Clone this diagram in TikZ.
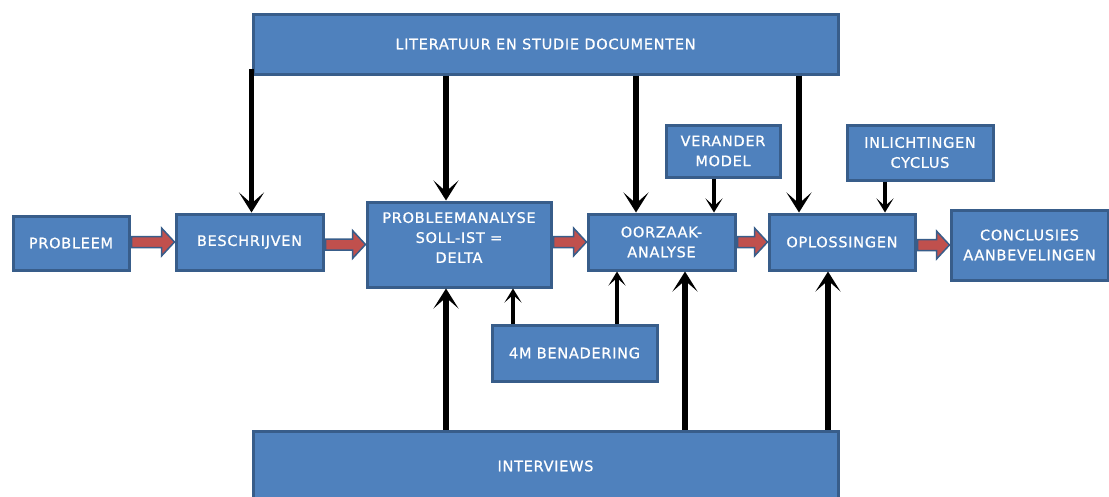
\documentclass[tikz,border=0pt]{standalone}
\usepackage{fontspec}
\setmainfont{DejaVu Sans}[LetterSpace=5,FakeBold=0.8]
\usetikzlibrary{arrows.meta,calc}
\definecolor{boxfill}{HTML}{4F81BD}
\definecolor{boxline}{HTML}{385D8A}
\definecolor{flowred}{HTML}{C0504D}
\tikzset{
  box/.style={draw=boxline, fill=boxfill, line width=3pt, text=white,
    font=\fontsize{14.5}{20}\selectfont, align=center, inner sep=0pt},
  feed/.style={line width=5.5pt, -{Stealth[length=20pt,width=25pt,inset=11pt]}},
  hint/.style={line width=3.5pt, -{Stealth[length=14pt,width=17pt,inset=7.5pt]}},
  flow/.style={fill=flowred, draw=boxline, line width=1.5pt, line join=miter},
}
% thick red block arrow from the east side of #1 to the west side of #2
\newcommand\flowarrow[2]{%
  \draw[flow] let \p1=(#1.east), \p2=(#2.west) in
    ({\x1+1pt},{\y2+5.5pt}) -- ({\x2-13pt},{\y2+5.5pt}) -- ({\x2-13pt},{\y2+14pt})
    -- (\x2,\y2) -- ({\x2-13pt},{\y2-14pt}) -- ({\x2-13pt},{\y2-5.5pt})
    -- ({\x1+1pt},{\y2-5.5pt}) -- cycle;
}
\begin{document}
\begin{tikzpicture}[x=1pt,y=-1pt]
\useasboundingbox (0,0) rectangle (1109,496);

% boxes
\node[box, minimum width=585, minimum height=60] (lit) at (545.5,44) {LITERATUUR EN STUDIE DOCUMENTEN};
\node[box, minimum width=116, minimum height=54] (prob) at (71,243) {PROBLEEM};
\node[box, minimum width=147, minimum height=56] (besch) at (249.5,242) {BESCHRIJVEN};
\node[box, minimum width=184, minimum height=85] (pa) at (459,244.5) {PROBLEEMANALYSE\\SOLL-IST =\\DELTA\rule[-14pt]{0pt}{0pt}};
\node[box, minimum width=147, minimum height=56] (oa) at (661.5,242) {OORZAAK-\\ANALYSE};
\node[box, minimum width=114, minimum height=52] (vm) at (723,151) {VERANDER\\MODEL};
\node[box, minimum width=146, minimum height=56] (opl) at (842,242) {OPLOSSINGEN};
\node[box, minimum width=146, minimum height=55] (inl) at (920,152.5) {INLICHTINGEN\\CYCLUS};
\node[box, minimum width=157, minimum height=70] (conc) at (1029.5,245) {CONCLUSIES\\AANBEVELINGEN};
\node[box, minimum width=165, minimum height=56] (m4) at (574.5,353) {4M BENADERING};
\node[box, minimum width=585, minimum height=70] (int) at (545.5,466) {INTERVIEWS};

% main flow
\flowarrow{prob}{besch}
\flowarrow{besch}{pa}
\flowarrow{pa}{oa}
\flowarrow{oa}{opl}
\flowarrow{opl}{conc}

% x positions of the vertical connectors
\coordinate (c446) at (446,0);
\coordinate (c636) at (636,0);
\coordinate (c799) at (799,0);
\coordinate (c714) at (714,0);
\coordinate (c885) at (885,0);
\coordinate (c513) at (513,0);
\coordinate (c617) at (617,0);
\coordinate (c685) at (685,0);
\coordinate (c828) at (828,0);

% literature feeds
\draw[feed] ([yshift=7]lit.south west) -- (lit.south west |- besch.north);
\draw[feed] (lit.south -| c446) -- (pa.north -| c446);
\draw[feed] (lit.south -| c636) -- (oa.north -| c636);
\draw[feed] (lit.south -| c799) -- (opl.north -| c799);

% interview feeds
\draw[feed] (int.north -| c446) -- (pa.south -| c446);
\draw[feed] (int.north -| c685) -- (oa.south -| c685);
\draw[feed] (int.north -| c828) -- (opl.south -| c828);

% method inputs
\draw[hint] (vm.south -| c714) -- (oa.north -| c714);
\draw[hint] (inl.south -| c885) -- (opl.north -| c885);
\draw[hint] (m4.north -| c513) -- (pa.south -| c513);
\draw[hint] (m4.north -| c617) -- (oa.south -| c617);
\end{tikzpicture}
\end{document}
